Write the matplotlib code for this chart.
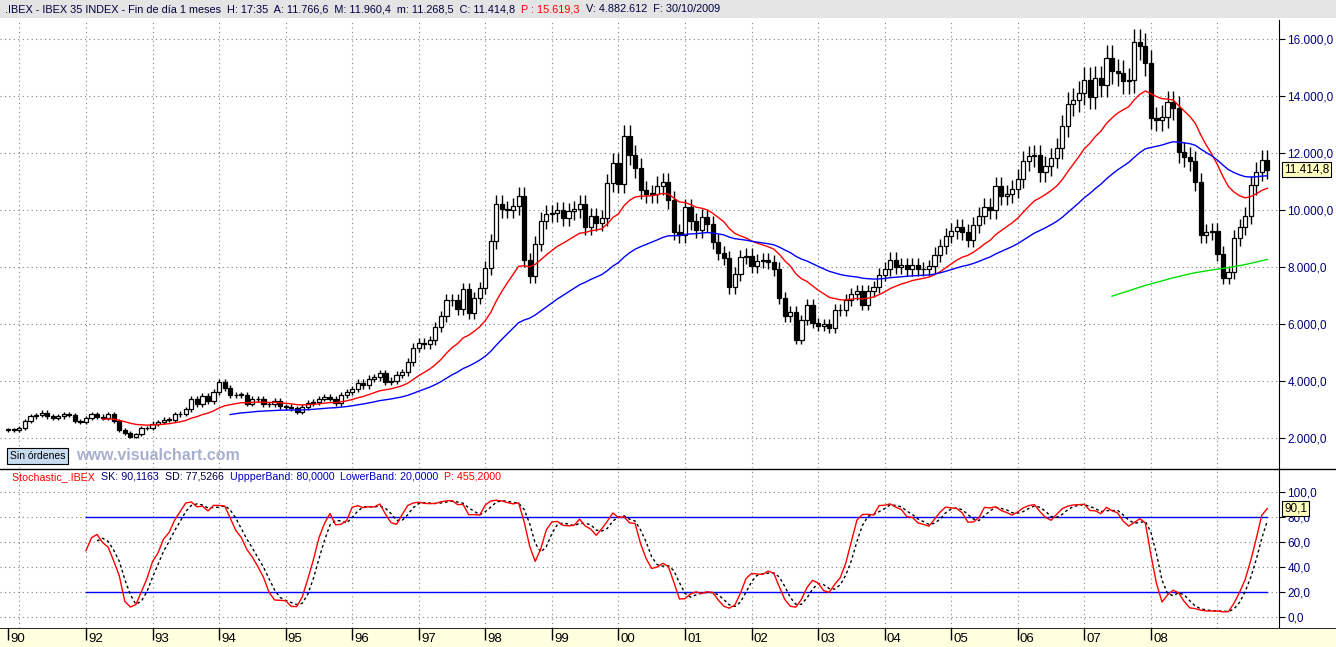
import numpy as np
import matplotlib
matplotlib.use("Agg")
import matplotlib.pyplot as plt
from matplotlib.patches import Rectangle
from matplotlib.offsetbox import TextArea, HPacker, AnchoredOffsetbox

plt.rcParams["font.family"] = "Liberation Sans"

# Monthly closes, Nov 1990 .. Oct 2009
closes = [
 2290, 2290,
 2330, 2580, 2760, 2800, 2880, 2760, 2700, 2760, 2820, 2800, 2580, 2560,
 2700, 2830, 2740, 2700, 2820, 2580, 2260, 2180, 2040, 2120, 2350, 2330,
 2500, 2550, 2640, 2640, 2820, 2840, 3000, 3380, 3170, 3460, 3290, 3600,
 3950, 3750, 3490, 3520, 3520, 3200, 3350, 3380, 3170, 3170, 3290, 3110,
 3080, 3030, 2910, 3080, 3230, 3260, 3380, 3430, 3380, 3230, 3500, 3600,
 3720, 3930, 3840, 4080, 4130, 4260, 3970, 4010, 4210, 4300, 4670, 5160,
 5330, 5280, 5420, 5880, 6270, 6850, 6830, 6520, 7230, 6380, 6910, 7260,
 7960, 8900, 10210, 10030, 10010, 10130, 10480, 8230, 7670, 8810, 9630, 9870,
 9890, 9990, 9720, 9950, 10030, 10220, 9400, 9780, 9540, 9720, 10950, 11650,
 10920, 12590, 11940, 11470, 10710, 10570, 10560, 10850, 10980, 10360, 9220, 9110,
 10090, 9600, 9310, 9750, 9510, 8880, 8490, 8310, 7280, 7750, 8350, 8400,
 8020, 8200, 8230, 8160, 7930, 6910, 6270, 6420, 5450, 6130, 6660, 6030,
 5920, 6000, 5860, 6500, 6480, 6830, 7050, 7150, 6680, 7150, 7290, 7730,
 7930, 8260, 8000, 8080, 7930, 8070, 7930, 7910, 8020, 8430, 8730, 9100,
 9260, 9390, 9220, 8960, 9460, 9800, 10110, 10000, 10830, 10480, 10560, 10740,
 11100, 11730, 11880, 11940, 11320, 11550, 11830, 12170, 12960, 13720, 13850, 14100,
 14570, 13950, 14620, 14390, 15330, 14870, 14810, 14520, 14550, 15890, 15740, 15160,
 13230, 13170, 13270, 13780, 13580, 12020, 11850, 11710, 10980, 9110, 9230, 9250,
 8470, 7620, 7810, 9020, 9400, 9800, 10860, 11350, 11740, 11414.8,
]
first_open = 2270
year_labels = ["90", "", "92", "93", "94", "95", "96", "97", "98", "99", "00",
               "01", "02", "03", "04", "05", "06", "07", "08", ""]
price_ticks = [2000, 4000, 6000, 8000, 10000, 12000, 14000, 16000]
price_tick_labels = ["2.000,0", "4.000,0", "6.000,0", "8.000,0", "10.000,0",
                     "12.000,0", "14.000,0", "16.000,0"]
stoch_ticks = [0, 20, 40, 60, 80, 100]
stoch_tick_labels = ["0,0", "20,0", "40,0", "60,0", "80,0", "100,0"]
# (kind, period, first shown bar, colour)
ma_specs = [("ema", 18, 17, "#ff0000"), ("ema", 46, 40, "#0000ff"), ("sma", 200, 199, "#00e000")]

c = np.array(closes, dtype=float)
n = len(c)
x = np.arange(n)
o = np.concatenate([[first_open], c[:-1]])
hi = np.maximum(o, c) * 1.03
lo = np.minimum(o, c) * 0.97

def sma(a, p):
    out = np.full(len(a), np.nan)
    for i in range(p - 1, len(a)):
        out[i] = a[i - p + 1:i + 1].mean()
    return out

def ema(a, p):
    al = 2.0 / (p + 1)
    out = np.empty(len(a)); out[0] = a[0]
    for i in range(1, len(a)):
        out[i] = out[i - 1] + al * (a[i] - out[i - 1])
    return out

kp = 13
rawk = np.full(n, np.nan)
for i in range(kp - 1, n):
    hh = hi[i - kp + 1:i + 1].max(); ll = lo[i - kp + 1:i + 1].min()
    rawk[i] = 100 * (c[i] - ll) / (hh - ll)
def sma_nan(a, p):
    out = np.full(len(a), np.nan)
    for i in range(len(a)):
        w = a[max(0, i - p + 1):i + 1]
        if len(w) == p and not np.isnan(w).any():
            out[i] = w.mean()
    return out
sk = sma_nan(rawk, 3)
sd = sma_nan(sk, 3)

W, H = 1336, 647
fig = plt.figure(figsize=(W / 100, H / 100), dpi=100)
fig.patch.set_facecolor("white")
def fx(px): return px / W
def fy(py): return 1 - py / H

# header
hdr = fig.add_axes([0, fy(18), 1, 18 / H]); hdr.set_axis_off()
hdr.add_patch(Rectangle((0, 0), 1, 1, transform=hdr.transAxes, color="#e4e4e4"))
fs = 7.8
parts = [(".IBEX - IBEX 35 INDEX - Fin de día 1 meses  H: 17:35  A: 11.766,6  M: 11.960,4  m: 11.268,5  C: 11.414,8  ", "#000040"),
         ("P : 15.619,3", "#ff0000"), ("  V: 4.882.612  F: 30/10/2009", "#000040")]
box = HPacker(children=[TextArea(s, textprops=dict(color=col, fontsize=fs)) for s, col in parts], pad=0, sep=0)
hdr.add_artist(AnchoredOffsetbox(loc="center left", child=box, frameon=False, bbox_to_anchor=(0.004, 0.5),
                                 bbox_transform=hdr.transAxes, borderpad=0, pad=0))

XL = (-1.5, 229.1)
jan_idx = [0] + [2 + 12 * k for k in range(19)]

# main axes
ax = fig.add_axes([0, fy(468), fx(1279), (468 - 20) / H])
ax.set_xlim(*XL)
ax.set_ylim(940, 16670)
for yv in price_ticks:
    ax.axhline(yv, color="#808080", lw=0.8, ls=(0, (1, 3)), zorder=0)
for xi in jan_idx[1:]:
    ax.axvline(xi, color="#808080", lw=0.8, ls=(0, (1, 3)), zorder=0)
up = c >= o
ax.vlines(x, lo, hi, color="black", lw=1, zorder=2)
body_h = np.maximum(np.abs(c - o), 25)
ax.bar(x[up], body_h[up], bottom=np.minimum(o, c)[up], width=0.75, color="white", edgecolor="black", lw=0.9, zorder=3)
ax.bar(x[~up], body_h[~up], bottom=np.minimum(o, c)[~up], width=0.75, color="black", edgecolor="black", lw=0.9, zorder=3)
for kind, p, start, col in ma_specs:
    m = ema(c, p) if kind == "ema" else sma(c, p)
    ax.plot(x[start:], m[start:], color=col, lw=1, zorder=4)
ax.yaxis.tick_right()
ax.set_yticks(price_ticks)
ax.set_yticklabels(price_tick_labels, color="#000080", fontsize=8.5)
ax.tick_params(axis="y", length=4, pad=2, direction="out")
ax.set_xticks([])
for s in ["top", "left", "bottom"]:
    ax.spines[s].set_visible(False)
ax.text(1.004, (c[-1] - 940) / (16670 - 940), "11.414,8", transform=ax.transAxes, fontsize=8.5,
        va="center", ha="left", color="black", zorder=10,
        bbox=dict(boxstyle="square,pad=0.15", fc="#ffffc0", ec="black", lw=0.8), clip_on=False)
fig.text(fx(10), fy(456), "Sin órdenes", fontsize=7.5, va="center", ha="left",
         bbox=dict(boxstyle="square,pad=0.25", fc="#c8dcf0", ec="black", lw=0.8))
fig.text(fx(76), fy(455), "www.visualchart.com", fontsize=11.5, fontweight="bold", color="#a8b0d0", va="center")

fig.add_artist(plt.Line2D([0, 1], [fy(469), fy(469)], color="black", lw=1))

# stochastic axes
sx = fig.add_axes([0, fy(628), fx(1279), (628 - 470) / H])
sx.set_xlim(*XL)
sx.set_ylim(-8.8, 117.6)
for yv in stoch_ticks:
    sx.axhline(yv, color="#808080", lw=0.8, ls=(0, (1, 3)), zorder=0)
for xi in jan_idx[1:]:
    sx.axvline(xi, color="#808080", lw=0.8, ls=(0, (1, 3)), zorder=0)
span = XL[1] - XL[0]
sx.axhline(80, color="#0000ff", lw=1, xmin=(14 - XL[0]) / span, xmax=(227 - XL[0]) / span)
sx.axhline(20, color="#0000ff", lw=1, xmin=(14 - XL[0]) / span, xmax=(227 - XL[0]) / span)
sx.plot(x, sd, color="black", lw=1, ls=(0, (2, 2)))
sx.plot(x, sk, color="#ff0000", lw=1)
sx.yaxis.tick_right()
sx.set_yticks(stoch_ticks)
sx.set_yticklabels(stoch_tick_labels, color="#000080", fontsize=8.5)
sx.tick_params(axis="y", length=4, pad=2)
sx.set_xticks([])
for s in ["top", "left", "bottom"]:
    sx.spines[s].set_visible(False)
sx.text(1.004, (sk[-1] + 8.8) / 126.4, "90,1", transform=sx.transAxes, fontsize=8.5, va="center", zorder=10,
        bbox=dict(boxstyle="square,pad=0.15", fc="#ffffc0", ec="black", lw=0.8), clip_on=False)
sparts = [("Stochastic_.IBEX  ", "#ff0000"), ("SK: 90,1163  ", "#000080"), ("SD: 77,5266  ", "#000040"),
          ("UppperBand: 80,0000  ", "#0000c0"), ("LowerBand: 20,0000  ", "#0000c0"), ("P: 455,2000", "#ff0000")]
sbox = HPacker(children=[TextArea(s, textprops=dict(color=col, fontsize=7.7)) for s, col in sparts], pad=0, sep=0)
sx.add_artist(AnchoredOffsetbox(loc="center left", child=sbox, frameon=False,
                                bbox_to_anchor=(fx(12) / fx(1279), 1 - 7 / 158),
                                bbox_transform=sx.transAxes, borderpad=0, pad=0))

# bottom date strip
bx = fig.add_axes([0, 0, 1, 19 / H])
bx.set_facecolor("#ffffe0")
bx.set_xlim(XL[0], XL[0] + span * W / 1279)
bx.set_ylim(0, 1)
bx.set_yticks([]); bx.set_xticks([])
for s in bx.spines.values():
    s.set_visible(False)
bx.axhline(1, color="black", lw=1.2)
for xi, lab in zip(jan_idx, year_labels):
    if lab:
        bx.vlines(xi, 0.35, 1, color="black", lw=1)
        bx.text(xi + 0.4, 0.42, lab, fontsize=9.5, va="center", ha="left")

fig.savefig("out.png", dpi=100)
